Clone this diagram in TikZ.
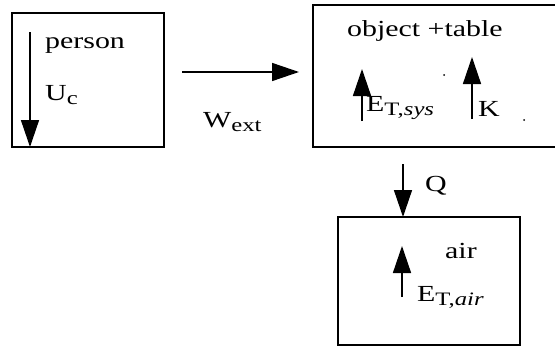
\documentclass[tikz,border=0pt]{standalone}
\usepackage{fontspec}
\setmainfont{Liberation Serif}[FakeStretch=1.3]
\usetikzlibrary{arrows.meta}
\newcommand{\lowsub}[1]{\raisebox{-0.45ex}{\fontsize{19}{20}\selectfont #1}}
\begin{document}
\begin{tikzpicture}[x=1pt,y=-1pt,
  box/.style={draw,line width=1.6pt,inner sep=0pt},
  flow/.style={line width=1.5pt,-{Triangle[length=27pt,width=18pt]}},
  lbl/.style={anchor=base west,inner sep=0pt,font=\fontsize{23}{26}\selectfont}]
\useasboundingbox (0,0) rectangle (555,348);
\clip (0,0) rectangle (555,348);
% boxes
\draw[box] (12,13) rectangle (164,147);
\draw[box] (313,5) rectangle (565,147);
\draw[box] (338,217) rectangle (520,345);
% labels
\node[lbl] (person) at (45,48) {person};
\node[lbl] (uc) at (45,100) {U\lowsub{c}};
\node[lbl] (wext) at (203,127) {W\lowsub{ext}};
\node[lbl] (obj) at (347,36) {object +table};
\node[lbl] (esys) at (366,111) {E\lowsub{T,\textit{sys}}};
\node[lbl] (k) at (478,116) {K};
\node[lbl] (q) at (425,191) {Q};
\node[lbl] (air) at (445,258) {air};
\node[lbl] (eair) at (417,301) {E\lowsub{T,\textit{air}}};
\fill (444,75) circle (1);
\fill (524,120) circle (1);
% arrows
\coordinate (p1) at (30,32); \coordinate (p2) at (30,147);
\draw[flow] (p1) -- (p2);
\coordinate (w1) at (182,72); \coordinate (w2) at (299,72);
\draw[flow] (w1) -- (w2);
\coordinate (s1) at (362,121); \coordinate (s2) at (362,69);
\draw[flow] (s1) -- (s2);
\coordinate (k1) at (472,119); \coordinate (k2) at (472,57);
\draw[flow] (k1) -- (k2);
\coordinate (q1) at (403,164); \coordinate (q2) at (403,217);
\draw[flow] (q1) -- (q2);
\coordinate (a1) at (402,297); \coordinate (a2) at (402,246);
\draw[flow] (a1) -- (a2);
\end{tikzpicture}
\end{document}
